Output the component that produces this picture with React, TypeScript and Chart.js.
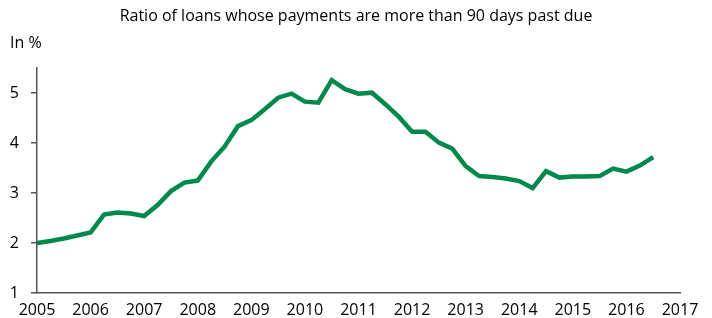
import React, { useEffect, useRef } from "react";
import { Chart, registerables } from "chart.js";

Chart.register(...registerables);

const TITLE = "Ratio of loans whose payments are more than 90 days past due";
const UNIT_LABEL = "In %";

const YEAR_TICKS = [2005, 2006, 2007, 2008, 2009, 2010, 2011, 2012, 2013, 2014, 2015, 2016, 2017];
const Y_TICKS = [1, 2, 3, 4, 5];

const QUARTERS = [
  2005.0, 2005.25, 2005.5, 2005.75,
  2006.0, 2006.25, 2006.5, 2006.75,
  2007.0, 2007.25, 2007.5, 2007.75,
  2008.0, 2008.25, 2008.5, 2008.75,
  2009.0, 2009.25, 2009.5, 2009.75,
  2010.0, 2010.25, 2010.5, 2010.75,
  2011.0, 2011.25, 2011.5, 2011.75,
  2012.0, 2012.25, 2012.5, 2012.75,
  2013.0, 2013.25, 2013.5, 2013.75,
  2014.0, 2014.25, 2014.5, 2014.75,
  2015.0, 2015.25, 2015.5, 2015.75,
  2016.0, 2016.25, 2016.5,
];

const RATIO = [
  2.0, 2.04, 2.09, 2.15,
  2.21, 2.57, 2.61, 2.59,
  2.54, 2.76, 3.04, 3.21,
  3.25, 3.63, 3.93, 4.34,
  4.46, 4.68, 4.91, 4.99,
  4.83, 4.81, 5.26, 5.08,
  4.99, 5.01, 4.78, 4.53,
  4.23, 4.23, 4.01, 3.89,
  3.54, 3.34, 3.32, 3.29,
  3.24, 3.1, 3.44, 3.31,
  3.33, 3.33, 3.34, 3.49,
  3.43, 3.55, 3.72,
];

const FONT = "'Open Sans', 'Liberation Sans', sans-serif";
const AXIS_COLOR = "#555555";
const LINE_COLOR = "#00894b";

const unitLabelPlugin = {
  id: "unitLabel",
  afterDraw(chart: any) {
    const ctx = chart.ctx;
    ctx.save();
    ctx.font = `16px ${FONT}`;
    ctx.fillStyle = "#000";
    ctx.textAlign = "left";
    ctx.textBaseline = "middle";
    ctx.fillText(UNIT_LABEL, 10, 43);
    ctx.restore();
  },
};

export default function App() {
  const ref = useRef<HTMLCanvasElement | null>(null);

  useEffect(() => {
    document.body.style.margin = "0";
    const canvas = ref.current;
    if (!canvas) return;
    const chart = new Chart(canvas, {
      type: "line",
      data: {
        datasets: [
          {
            data: QUARTERS.map((q, i) => ({ x: q, y: RATIO[i] })),
            borderColor: LINE_COLOR,
            borderWidth: 4.5,
            pointRadius: 0,
            tension: 0,
            fill: false,
          },
        ],
      },
      plugins: [unitLabelPlugin],
      options: {
        animation: false,
        responsive: false,
        layout: { padding: { left: 0, right: 0, top: 0, bottom: 0 } },
        plugins: {
          legend: { display: false },
          tooltip: { enabled: false },
          title: {
            display: true,
            text: TITLE,
            color: "#000",
            font: { family: FONT, size: 16, weight: "normal" },
            padding: { top: 7, bottom: 42 },
          },
        },
        scales: {
          x: {
            type: "linear",
            min: YEAR_TICKS[0],
            max: YEAR_TICKS[YEAR_TICKS.length - 1],
            afterBuildTicks: (axis: any) => {
              axis.ticks = YEAR_TICKS.map((v) => ({ value: v }));
            },
            afterFit: (axis: any) => {
              axis.height = 25;
              axis.paddingRight = 32;
            },
            ticks: {
              color: "#000",
              font: { family: FONT, size: 16 },
              padding: 8,
              maxRotation: 0,
              autoSkip: false,
              callback: (v: any) => String(v),
            },
            grid: { display: false, drawTicks: false, tickLength: 0 },
            border: { display: true, color: AXIS_COLOR, width: 1.5 },
          },
          y: {
            type: "linear",
            min: 1,
            max: 5.5,
            afterBuildTicks: (axis: any) => {
              axis.ticks = Y_TICKS.map((v) => ({ value: v }));
            },
            afterFit: (axis: any) => {
              axis.width = 37;
            },
            ticks: {
              color: "#000",
              font: { family: FONT, size: 16 },
              padding: 12,
              callback: (v: any) => String(v),
            },
            grid: {
              drawOnChartArea: false,
              drawTicks: true,
              tickLength: 6,
              color: AXIS_COLOR,
              lineWidth: 1.5,
            },
            border: { display: true, color: AXIS_COLOR, width: 1.5 },
          },
        },
      },
    });
    return () => chart.destroy();
  }, []);

  return (
    <div style={{ width: 712, height: 318 }}>
      <canvas ref={ref} width={712} height={318} style={{ display: "block" }} />
    </div>
  );
}
